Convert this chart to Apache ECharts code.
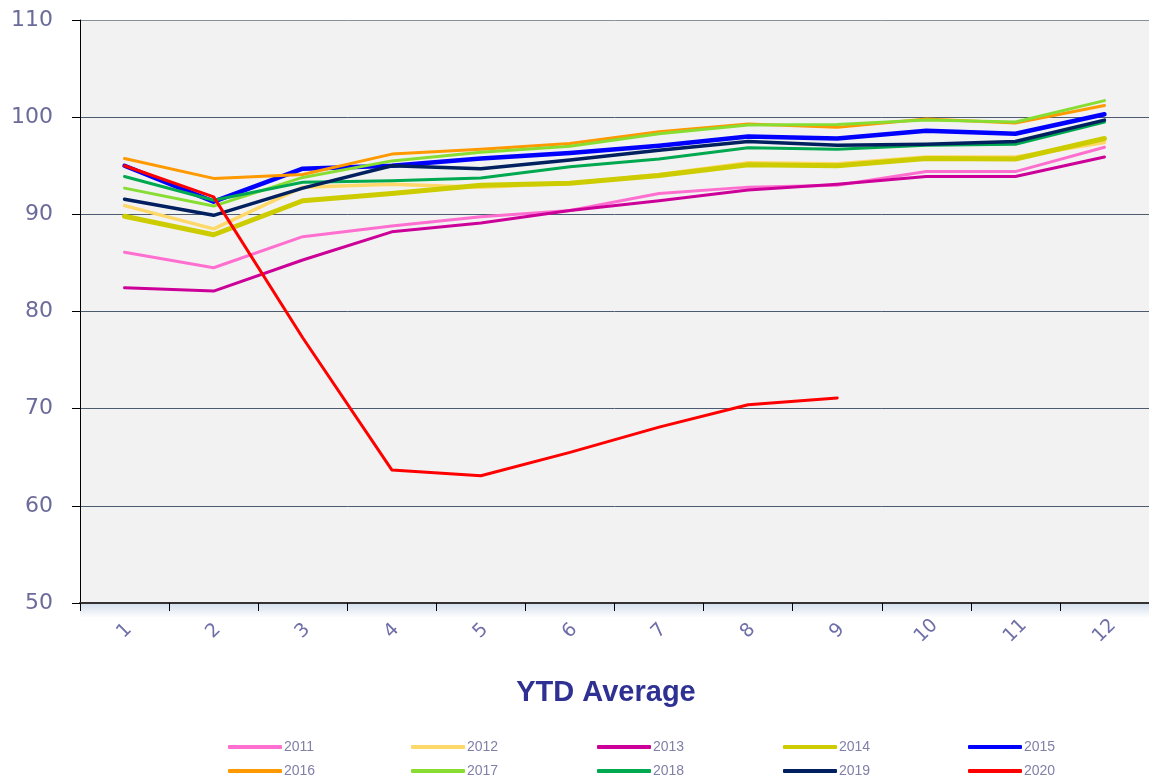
<!DOCTYPE html>
<html>
<head>
<meta charset="utf-8">
<script src="https://cdn.jsdelivr.net/npm/echarts@6/dist/echarts.min.js"></script>
<style>
html,body{margin:0;padding:0;background:#fff;}
#chart{width:1149px;height:780px;}
</style>
</head>
<body>
<div id="chart"></div>
<script>
const categories = ['1','2','3','4','5','6','7','8','9','10','11','12'];
const yTicks = [50, 60, 70, 80, 90, 100, 110];
const years = ['2011','2012','2013','2014','2015','2016','2017','2018','2019','2020'];
const v2011 = [86.1, 84.5, 87.7, 88.8, 89.75, 90.4, 92.15, 92.8, 93.0, 94.4, 94.4, 96.9];
const v2012 = [90.9, 88.5, 92.8, 93.1, 92.8, 93.2, 94.1, 95.3, 95.2, 95.9, 95.9, 97.4];
const v2013 = [82.45, 82.1, 85.3, 88.2, 89.1, 90.4, 91.4, 92.5, 93.1, 93.9, 93.9, 95.9];
const v2014 = [89.8, 87.9, 91.4, 92.15, 93.0, 93.2, 94.0, 95.1, 95.0, 95.75, 95.7, 97.8];
const v2015 = [95.0, 91.3, 94.7, 95.0, 95.75, 96.3, 97.05, 98.0, 97.8, 98.6, 98.3, 100.3];
const v2016 = [95.75, 93.7, 94.1, 96.2, 96.7, 97.3, 98.5, 99.3, 98.95, 99.8, 99.4, 101.2];
const v2017 = [92.7, 90.85, 93.8, 95.5, 96.4, 97.0, 98.3, 99.2, 99.25, 99.7, 99.5, 101.7];
const v2018 = [93.9, 91.45, 93.3, 93.45, 93.75, 94.9, 95.7, 96.85, 96.7, 97.1, 97.2, 99.5];
const v2019 = [91.55, 89.9, 92.7, 95.0, 94.7, 95.6, 96.6, 97.5, 97.1, 97.2, 97.5, 99.7];
const v2020 = [95.0, 91.8, 77.3, 63.7, 63.1, 65.5, 68.1, 70.4, 71.1];

const seriesValues = [v2011, v2012, v2013, v2014, v2015, v2016, v2017, v2018, v2019, v2020];
const colors = ['#ff6fcf', '#ffd86a', '#cc0099', '#cccc00', '#0000ff', '#ff9900', '#88dd33', '#00a850', '#002060', '#ff0000'];
const widths = [3, 3.5, 3, 5, 4.5, 3, 3, 3, 3.5, 3];

const chart = echarts.init(document.getElementById('chart'), null, {renderer: 'canvas'});

const series = years.map((y, i) => ({
  name: y,
  type: 'line',
  data: seriesValues[i],
  symbol: 'none',
  smooth: false,
  color: colors[i],
  lineStyle: {color: colors[i], width: widths[i], cap: 'round', join: 'round'},
  emphasis: {disabled: true}
}));

const legendLefts = [228, 411, 597, 783, 968];
const legendTops = [740, 764];
const legends = years.map((y, i) => ({
  left: legendLefts[i % 5],
  top: legendTops[Math.floor(i / 5)],
  orient: 'horizontal',
  icon: 'roundRect',
  itemWidth: 54,
  itemHeight: 4,
  itemGap: 0,
  padding: 0,
  selectedMode: false,
  data: [y],
  textStyle: {fontFamily: 'Liberation Sans', fontSize: 14, color: '#7f7fa8', padding: [0, 0, 0, -3]}
}));

const option = {
  backgroundColor: '#ffffff',
  animation: false,
  color: colors,
  title: {
    text: 'YTD Average',
    left: 601,
    top: 673,
    textAlign: 'center',
    textStyle: {fontFamily: 'Liberation Sans', fontWeight: 'bold', fontSize: 29, color: '#2e3192'}
  },
  graphic: [{
    type: 'rect',
    z: -10,
    shape: {x: 80, y: 604, width: 1069, height: 14},
    style: {fill: new echarts.graphic.LinearGradient(0, 0, 0, 1, [{offset: 0, color: '#d5e0ee'}, {offset: 1, color: '#ffffff'}])}
  }],
  legend: legends,
  grid: {
    left: 80, top: 20, width: 1076, height: 583,
    show: true, backgroundColor: '#f2f2f2', borderWidth: 0
  },
  xAxis: {
    type: 'category',
    data: categories,
    boundaryGap: true,
    axisLine: {lineStyle: {color: '#333333', width: 2}},
    axisTick: {show: true, length: 8, lineStyle: {color: '#000'}},
    axisLabel: {rotate: 45, align: 'center', verticalAlign: 'middle', fontSize: 19, color: '#6e6ea8', margin: 28, fontFamily: 'DejaVu Sans'},
    splitLine: {show: false}
  },
  yAxis: {
    type: 'value',
    min: yTicks[0],
    max: yTicks[yTicks.length - 1],
    interval: 10,
    axisLine: {show: true, lineStyle: {color: '#000', width: 1}},
    axisTick: {show: true, length: 8, lineStyle: {color: '#000'}},
    axisLabel: {fontSize: 22, color: '#6b6b9b', margin: 27, fontFamily: 'DejaVu Sans'},
    splitLine: {show: true, lineStyle: {color: ['#4d5b70','#4d5b70','#4d5b70','#4d5b70','#4d5b70','#4d5b70','#8a9099'], width: 1}}
  },
  series: series
};
chart.setOption(option);
</script>
</body>
</html>
